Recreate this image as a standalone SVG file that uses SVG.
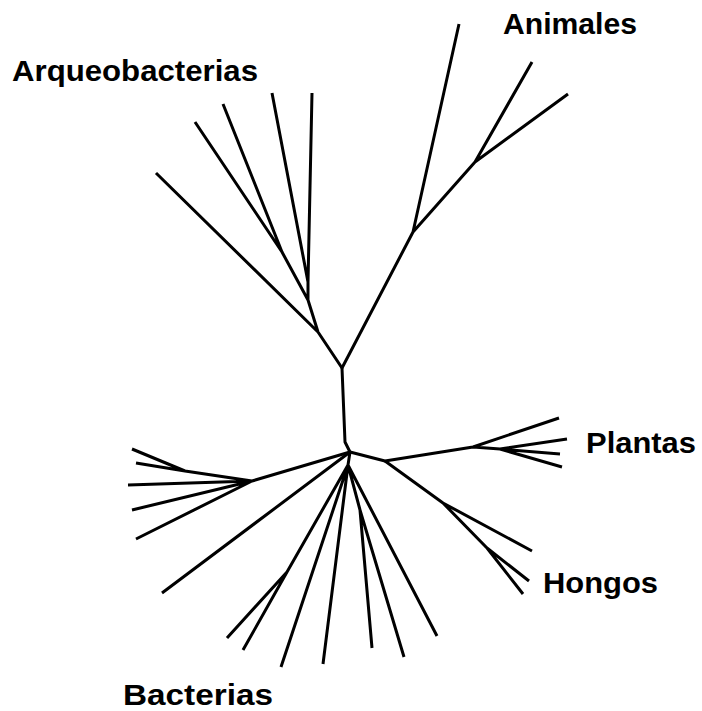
<svg xmlns="http://www.w3.org/2000/svg" width="702" height="711" viewBox="0 0 702 711">
<style>
.e{fill:none;stroke:#000;stroke-width:3;stroke-linecap:butt;stroke-linejoin:round}
.t{font-family:"Liberation Sans",Arial,sans-serif;font-weight:bold;font-size:30px;fill:#000}
</style>
<rect width="702" height="711" fill="#fff"/>
<g id="connectors">
<path class="e" d="M156,173L318,332M195,122L282,252M223,104L282,252L308,300M272,93L308,282M312,93L308,282L308,300L318,332L342,368"/>
<path class="e" d="M342,368L413,232L459,24M413,232L475,162L532,62M475,162L568,94"/>
<path class="e" d="M342,368L345,442L350,452"/>
<path class="e" d="M350,452L385,461L473,447L559,418M473,447L500,449L567,439M500,449L560,454M500,449L562,467"/>
<path class="e" d="M385,461L443,503L532,551M443,503L487,548L529,581M487,548L523,594"/>
<path class="e" d="M350,452L252,481L128,485M252,481L132,510M252,481L136,539M252,481L185,471L132,449M185,471L136,463"/>
<path class="e" d="M350,452L162,593M350,452L348,465L287,572L227,638M287,572L243,650M348,465L281,667M348,465L323,664M348,465L360,510L372,648M360,510L404,657M348,465L437,636"/>
</g>
<g id="animales"><text class="t" x="503" y="34" textLength="134" lengthAdjust="spacingAndGlyphs">Animales</text></g>
<g id="arqueobacterias"><text class="t" x="12" y="81" textLength="246" lengthAdjust="spacingAndGlyphs">Arqueobacterias</text></g>
<g id="plantas"><text class="t" x="586" y="453" textLength="110" lengthAdjust="spacingAndGlyphs">Plantas</text></g>
<g id="hongos"><text class="t" x="543" y="593" textLength="115" lengthAdjust="spacingAndGlyphs">Hongos</text></g>
<g id="bacterias"><text class="t" x="123" y="705" textLength="150" lengthAdjust="spacingAndGlyphs">Bacterias</text></g>
</svg>
